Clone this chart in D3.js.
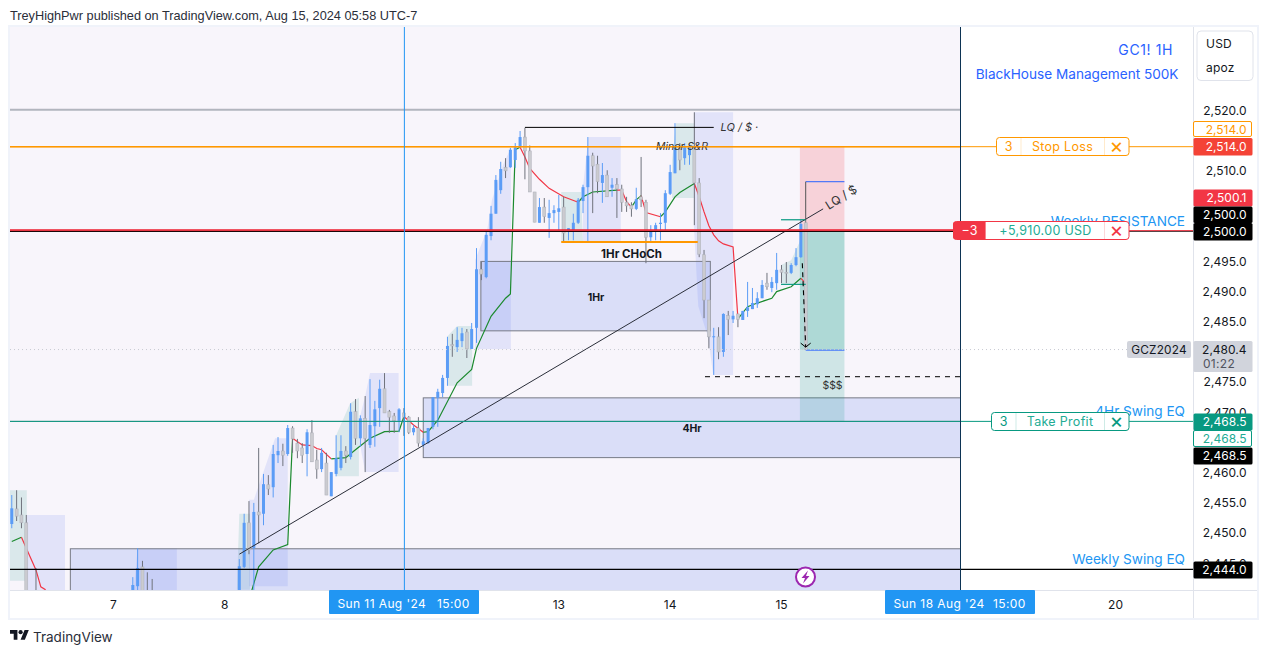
<!DOCTYPE html>
<html>
<head>
<meta charset="utf-8">
<script src="https://cdn.jsdelivr.net/npm/d3@7/dist/d3.min.js"></script>
<style>
html,body{margin:0;padding:0;background:#fff;}
svg{display:block;}
text{font-family:Inter,"Noto Sans",sans-serif;}
</style>
</head>
<body>
<svg id="c" width="1267" height="653"></svg>
<script>
// ---------- data (bar index, prices) ----------
const barIndex=[-47,-46,-45,-44,-42,-22,-21,-20,-19,-18,
0,1,2,3,4,5,6,7,8,9,10,11,12,13,14,15,16,17,18,19,20,21,22,23,24,25,26,27,28,29,30,31,32,33,34,35,36,37,38,39,
40,41,42,43,44,45,46,47,48,49,50,51,52,53,54,55,56,57,58,59,60,61,62,63,64,65,66,67,68,69,70,71,72,73,74,75,76,77,78,79,
80,81,82,83,84,85,86,87,88,89,90,91,92,93,94,95,96,97,98,99,100,101,102,103,104,105,106,107,108,109,110,111,112,113,114,115,116,117];
const highs=[2456.3,2457.1,2455.9,2453.0,2444.2,2442.7,2447.5,2445.4,2443.5,2442.4,
2445.7,2453.2,2455.3,2455.0,2464.1,2459.8,2459.6,2464.6,2465.9,2464.8,2467.9,2467.7,2465.6,2464.9,2467.2,2468.7,2463.8,2464.1,2463.3,2460.1,2466.2,2466.2,2464.4,2471.5,2472.2,2469.5,2472.7,2475.5,2471.9,2475.4,2476.5,2470.4,2469.9,2470.7,2470.7,2469.4,2467.9,2469.2,2465.7,2467.4,
2472.5,2473.9,2476.2,2482.5,2483.0,2484.1,2484.0,2483.8,2484.8,2497.2,2494.9,2500.2,2504.2,2509.3,2511.5,2512.1,2513.8,2514.6,2516.6,2517.1,2514.2,2506.5,2505.5,2505.5,2505.2,2504.3,2506.0,2505.7,2500.5,2502.9,2505.5,2507.7,2515.6,2513.0,2512.5,2511.3,2510.1,2508.8,2508.8,2507.7,
2505.7,2504.8,2507.2,2512.3,2505.2,2501.0,2501.4,2503.0,2506.8,2511.0,2517.9,2514.6,2514.6,2514.6,2519.7,2508.8,2496.9,2488.6,2484.0,2484.1,2486.4,2486.8,2486.8,2486.3,2486.8,2491.6,2490.6,2489.9,2491.9,2493.1,2492.4,2496.4,2494.4,2494.9,2494.7,2497.2,2501.9,2501.9];
const lows=[2450.8,2452.0,2450.8,2434,2434,2433,2435.6,2434,2433,2433,
2437,2444.2,2446.5,2440,2448.3,2451.3,2456.3,2455.9,2461.6,2461.1,2462.8,2463.3,2462.4,2461.6,2459.4,2461.8,2459.0,2460.1,2456.3,2456.1,2459.4,2460.4,2461.6,2462.2,2464.6,2464.3,2460.1,2464.1,2464.3,2467.6,2469.9,2466.6,2466.6,2466.7,2466.1,2466.4,2466.2,2464.3,2464.3,2464.8,
2467.2,2467.6,2472.5,2474.4,2479.2,2480.0,2480.8,2479.0,2480.5,2481.5,2491.9,2492.2,2498.5,2502.9,2506.2,2508.8,2510.5,2510.5,2513.8,2508.6,2506.5,2501.5,2501.4,2501.4,2498.9,2501.4,2499.9,2498.2,2498.5,2498.5,2501.2,2503.0,2498.2,2503.0,2506.3,2504.7,2505.7,2505.7,2502.2,2503.2,
2503.2,2502.4,2503.5,2504.0,2494.7,2498.2,2498.5,2498.5,2499.9,2506.0,2509.6,2510.1,2511.0,2511.0,2501.0,2495.7,2485.6,2480.6,2476.2,2478.8,2479.2,2482.8,2484.8,2484.1,2485.3,2485.8,2487.1,2487.3,2488.9,2490.3,2489.9,2490.3,2491.4,2491.4,2492.9,2494.2,2495.6,2480.4];
const opens=[2451.5,2454.0,2453.0,2451.7,2438.9,2435,2441.2,2444.4,2438.9,2438.9,
2438.9,2444.4,2451.7,2447.5,2453.5,2453.2,2458.0,2457.6,2462.9,2463.6,2463.1,2467.4,2464.9,2464.1,2463.1,2466.6,2462.1,2460.6,2461.6,2456.1,2459.8,2460.8,2463.6,2462.6,2470.1,2465.7,2469.0,2464.6,2467.7,2470.7,2473.9,2470.1,2469.4,2468.6,2469.9,2469.2,2466.7,2467.4,2464.6,2464.9,
2467.6,2472.4,2473.2,2475.7,2481.2,2480.8,2481.8,2483.3,2480.5,2484.0,2493.7,2492.4,2499.2,2502.9,2506.8,2510.6,2510.6,2511.8,2513.9,2515.6,2513.3,2506.5,2501.4,2504.0,2502.2,2503.0,2503.2,2504.0,2499.9,2500.0,2501.4,2505.0,2507.3,2512.5,2511.1,2508.0,2509.3,2507.2,2507.7,2507.0,
2504.8,2504.3,2503.7,2505.7,2504.8,2499.0,2499.9,2501.2,2501.4,2506.2,2509.6,2513.5,2512.1,2512.6,2513.5,2508.0,2496.1,2488.6,2482.5,2482.5,2480.0,2486.0,2485.4,2486.3,2485.3,2486.8,2487.1,2487.9,2488.9,2491.4,2490.6,2491.4,2493.6,2493.2,2493.1,2494.4,2495.7,2501.4];
const closes=[2454.1,2452.8,2451.7,2435.6,2435.6,2441.4,2444.2,2437.3,2435.6,2435.6,
2444.5,2451.7,2447.2,2453.5,2453.0,2458.1,2457.3,2463.1,2463.6,2462.9,2467.4,2465.6,2463.6,2462.9,2466.7,2461.8,2460.6,2463.3,2456.3,2460.1,2462.4,2463.6,2462.9,2470.1,2465.7,2469.0,2465.7,2467.9,2470.5,2473.9,2469.9,2469.2,2468.6,2470.5,2469.2,2466.7,2467.4,2464.9,2465.2,2467.4,
2472.5,2473.4,2475.7,2481.0,2481.0,2482.0,2483.1,2480.5,2483.8,2493.7,2492.9,2499.4,2502.9,2508.5,2510.3,2510.0,2513.5,2513.9,2515.6,2513.3,2506.5,2501.5,2504.0,2502.4,2503.0,2503.5,2503.8,2499.7,2500.5,2501.4,2505.2,2507.3,2512.5,2510.8,2508.2,2509.3,2505.7,2507.7,2507.0,2504.8,
2504.2,2503.7,2505.3,2505.2,2499.0,2499.9,2501.0,2501.4,2506.3,2509.8,2513.9,2511.8,2513.9,2513.9,2508.0,2496.2,2488.6,2482.5,2482.6,2480.0,2486.3,2485.4,2486.0,2485.4,2486.8,2487.4,2488.1,2488.9,2491.1,2490.8,2491.6,2493.6,2493.2,2493.1,2494.4,2495.7,2501.2,2480.4];

// moving-average line, split into runs: [bar index list, price list, colour flag]
const maIdx=[
[-47,-45],[-45,-44,-42,-41,-40],
[2,4,7,10,11],[11,13,15,16,17,19],[19,22,24,27,30,33,34],[34,36,38],
[38,39,41,45,48,49,52,55,56,57,58],[58,59,60,62,64,67,70],[70,71,73,78],[78,79,80,81],[81,82,83],[83,84,87],
[87,88,90,91,94],[94,95,96,97,98,99,100,102,103],[103,105,107,110,111,114,116],[116,117]];
const maPrice=[
[2448.6,2449.3],[2449.3,2447.5,2443.9,2441.1,2440.6],
[2438.9,2444.4,2447.2,2448.1,2465.7],[2465.7,2464.6,2464.5,2464.0,2463.8,2462.3],[2462.3,2462.5,2463.8,2465.7,2466.8,2466.9,2469.3],[2469.3,2467.9,2466.7],
[2466.7,2466.8,2468.7,2474.9,2477.1,2480.6,2485.9,2488.9,2489.6,2513.5,2513.9],[2513.9,2512.3,2510.4,2508.6,2507.1,2505.7,2504.8],[2504.8,2505.7,2506.5,2506.8],[2506.8,2506.8,2504.9,2504.0],[2504.0,2505.2,2505.9],[2505.9,2503.1,2502.4],
[2502.4,2503.2,2505.7,2506.4,2507.9],[2507.9,2505.7,2503.2,2500.9,2499.4,2498.4,2497.9,2497.4,2485.5],[2485.5,2487.5,2488.1,2488.9,2490.0,2490.8,2492.2],[2492.2,2491.4]];
const maRising=[1,0,1,0,1,0,1,0,1,0,1,0,1,0,1,0];

// shaded zones as outlines of [bar index, price]
const blueZones=[
[[-43.9,2453.0],[-36,2453.0],[-36,2438.9],[-43.9,2438.9]],
[[-22,2438.9],[-21,2447.5],[-12.9,2447.5],[-12.9,2438.9]],
[[2,2441.2],[2,2455.5],[3,2455.5],[7.4,2465.7],[10,2465.7],[10,2441.2]],
[[25,2464.4],[25,2469.5],[26,2472.7],[27,2476.5],[32.9,2476.5],[32.9,2460.1],[26,2460.1]],
[[48.7,2480.5],[48.7,2495.2],[49.7,2497.2],[51.2,2500.2],[52.2,2505.2],[54.5,2511],[56.1,2513.8],[56.1,2480.5]],
[[71,2498.2],[71,2507.3],[72.1,2515.6],[78.8,2515.6],[78.8,2498.2]],
[[93.9,2519.7],[102,2519.7],[102,2476.2],[97.9,2476.2],[96.8,2482.5],[94.8,2487.6],[93.9,2501]]];
const greenZones=[
[[-47.4,2457.1],[-43.9,2457.1],[-43.9,2442.1],[-47.4,2442.1]],
[[-0.5,2440.6],[0,2453.2],[2.2,2453.2],[2.2,2440.6]],
[[20,2459.4],[20,2466.2],[22.9,2471.5],[24.7,2472.4],[24.7,2459.4]],
[[42.9,2474.4],[42.9,2482.5],[45,2484.3],[48.1,2484.3],[48.1,2474.4]],
[[66.5,2498.2],[66.5,2506.5],[70.6,2506.5],[71,2498.2]],
[[89.4,2505.5],[89.4,2511.8],[90.2,2517.9],[93.9,2517.9],[93.9,2505.5]],
[[111.9,2491.4],[111.9,2494.4],[114,2495.2],[115.9,2498.5],[115.9,2491.4]]];

// rectangles: left bar, right bar, top price, bottom price, label
const boxLeft=[49.9,38,-34.9];
const boxRight=[97.3,149,149];
const boxTop=[2495,2472.4,2447.4];
const boxBottom=[2483.5,2462.5,2430];
const boxLabels=["1Hr","4Hr",""];

// position tool
const entryPrice=2500, stopPrice=2514, targetPrice=2468.5, lastPrice=2480.4;
const posBars=[115.8,125];

const trendBars=[0,120.6], trendPrices=[2446.5,2503.7];
const priceTicks=[2520,2510,2495,2490,2485,2475,2470,2460,2455,2450,2445];
const dayTicks=[-26,-3,66,89,112,181];
const dayLabels=["7","8","13","14","15","20"];

// ---------- scales ----------
const x=d3.scaleLinear().domain([0,117]).range([239.3,805.7]);
const y=d3.scaleLinear().domain([2514,2444]).range([146.7,569.3]);
const svg=d3.select("#c");

const L=10,R=960,T=27,B=590,AX=1193,W=1257,BB=618;
// frame
svg.append("rect").attr("x",L-1).attr("y",T-1).attr("width",W-L+2).attr("height",BB-T+2).attr("fill","#fff").attr("stroke","#f0f3fa").attr("stroke-width",2);
svg.append("rect").attr("x",L).attr("y",T).attr("width",R-L).attr("height",B-T).attr("fill","#f8f5fb");

const defs=svg.append("defs");
defs.append("clipPath").attr("id","plot").append("rect").attr("x",L).attr("y",T).attr("width",R-L).attr("height",B-T);
defs.append("clipPath").attr("id","full").append("rect").attr("x",L).attr("y",T).attr("width",AX-L).attr("height",B-T);

const plot=svg.append("g").attr("clip-path","url(#plot)");
const polyLine=d3.line().x(d=>x(d[0])).y(d=>y(d[1]));

// zones
plot.append("g").selectAll("path").data(blueZones).join("path").attr("d",d=>polyLine(d)+"Z").attr("fill","rgba(100,130,240,.15)");
plot.append("g").selectAll("path").data(greenZones).join("path").attr("d",d=>polyLine(d)+"Z").attr("fill","rgba(10,140,120,.12)");

// boxes
const boxes=boxLeft.map((l,i)=>({l,r:boxRight[i],t:boxTop[i],b:boxBottom[i],label:boxLabels[i]}));
plot.append("g").selectAll("rect").data(boxes).join("rect")
 .attr("x",d=>x(d.l)).attr("y",d=>y(d.t)).attr("width",d=>x(d.r)-x(d.l)).attr("height",d=>y(d.b)-y(d.t))
 .attr("fill","rgba(100,130,240,.2)").attr("stroke","#787b86").attr("stroke-width",1);

// position tool
const pl=x(posBars[0]), pw=x(posBars[1])-x(posBars[0]);
plot.append("rect").attr("x",pl).attr("y",y(stopPrice)).attr("width",pw).attr("height",y(entryPrice)-y(stopPrice)).attr("fill","rgba(242,54,69,.18)");
plot.append("rect").attr("x",pl).attr("y",y(entryPrice)).attr("width",pw).attr("height",y(targetPrice)-y(entryPrice)).attr("fill","rgba(8,153,129,.17)");
plot.append("rect").attr("x",pl).attr("y",y(entryPrice)).attr("width",pw).attr("height",y(lastPrice)-y(entryPrice)).attr("fill","rgba(8,153,129,.16)");

// MA
const ma=plot.append("g");
maIdx.forEach((ids,i)=>{
 ma.append("path").attr("d",polyLine(ids.map((b,j)=>[b,maPrice[i][j]]))).attr("fill","none")
  .attr("stroke",maRising[i]?"#1b8a2e":"#f23645").attr("stroke-width",1.2);
});

// candles
const bars=barIndex.map((b,i)=>({b,h:highs[i],l:lows[i],o:opens[i],c:closes[i]}));
const cg=plot.append("g").selectAll("g").data(bars).join("g");
cg.append("line").attr("x1",d=>x(d.b)).attr("x2",d=>x(d.b)).attr("y1",d=>y(d.h)).attr("y2",d=>y(d.l))
 .attr("stroke",d=>d.c>=d.o?"#5b9cf6":"#6f727c").attr("stroke-width",1);
cg.append("rect").attr("x",d=>x(d.b)-1.5).attr("width",3)
 .attr("y",d=>y(Math.max(d.o,d.c))).attr("height",d=>Math.max(1,Math.abs(y(d.o)-y(d.c))))
 .attr("fill",d=>d.c>=d.o?"#5b9cf6":"#cbcbd0").attr("stroke",d=>d.c>=d.o?"none":"#adb0b8").attr("stroke-width",.5);

// trend line
plot.append("path").attr("d",polyLine(trendBars.map((b,i)=>[b,trendPrices[i]]))).attr("stroke","#2a2e39").attr("stroke-width",1).attr("fill","none");
function hLine(g,p,x0,x1,col,w,dash){
 return g.append("line").attr("x1",x0).attr("x2",x1).attr("y1",y(p)).attr("y2",y(p)).attr("stroke",col).attr("stroke-width",w).attr("stroke-dasharray",dash||null);
}
const full=svg.append("g").attr("clip-path","url(#full)");
hLine(plot,2520.1,L,R,"#b2b5be",2);
hLine(full,targetPrice,L,AX,"#089981",1);
hLine(plot,targetPrice,L,R,"#787b86",1);
hLine(full,stopPrice,L,AX,"#ff9800",1);
hLine(plot,stopPrice,L,R,"#ff9800",1.6);
hLine(full,entryPrice,L,AX,"#000",1);
hLine(plot,entryPrice,L,R,"#000",1.4);
hLine(full,2500.1,L,AX,"#f23645",1);
hLine(plot,2500.2,L,R,"#ee1c2e",1.4);
hLine(full,2444,L,AX,"#000",1.2);
hLine(full,lastPrice,L,1127,"#c8cad2",1,"1 3");

// LQ and CHoCH
const lqBars=[59,98], lqPrice=2517.2, chochBars=[66.5,94.7], chochPrice=2498.2, ssPrice=2475.9, ssBars=[96.2,149];
plot.append("line").attr("x1",x(lqBars[0])).attr("x2",x(lqBars[1])).attr("y1",y(lqPrice)).attr("y2",y(lqPrice)).attr("stroke","#000").attr("stroke-width",1);
plot.append("line").attr("x1",x(chochBars[0])).attr("x2",x(chochBars[1])).attr("y1",y(chochPrice)).attr("y2",y(chochPrice)).attr("stroke","#ff9800").attr("stroke-width",2);
plot.append("line").attr("x1",x(ssBars[0])).attr("x2",x(ssBars[1])).attr("y1",y(ssPrice)).attr("y2",y(ssPrice)).attr("stroke","#000").attr("stroke-width",1).attr("stroke-dasharray","5 5");

// short target lines near the last bars
const shortHi=2501.9, shortLo=2491.2, shortBars=[111.9,117];
[shortHi,shortLo].forEach(p=>plot.append("line").attr("x1",x(shortBars[0])).attr("x2",x(shortBars[1])).attr("y1",y(p)).attr("y2",y(p)).attr("stroke","#089981").attr("stroke-width",1.2));

// blue measure lines
const measureHi=2508.2, measureLo=2480.3, measureBars=[117,125];
[measureHi,measureLo].forEach(p=>plot.append("line").attr("x1",x(measureBars[0])).attr("x2",x(measureBars[1])).attr("y1",y(p)).attr("y2",y(p)).attr("stroke","#2962ff").attr("stroke-width",1));
plot.append("line").attr("x1",x(117)).attr("x2",x(117)).attr("y1",y(measureHi)).attr("y2",y(2501.9)).attr("stroke","#555").attr("stroke-width",1);

// dashed arrow
const arrowBars=[116.3,117], arrowPrices=[2494.7,2480.8];
plot.append("line").attr("x1",x(arrowBars[0])).attr("x2",x(arrowBars[1])).attr("y1",y(arrowPrices[0])).attr("y2",y(arrowPrices[1])).attr("stroke","#000").attr("stroke-width",1.1).attr("stroke-dasharray","5 4");
plot.append("path").attr("d",`M${x(117)-5},${y(2480.8)-4}L${x(117)},${y(2480.8)}L${x(117)+5},${y(2480.8)-4}`).attr("fill","none").attr("stroke","#000").attr("stroke-width",1);

// vertical markers
const markerBars=[34.1,148.9];
svg.append("line").attr("x1",x(markerBars[0])).attr("x2",x(markerBars[0])).attr("y1",T).attr("y2",B).attr("stroke","#2196f3").attr("stroke-width",1);
svg.append("line").attr("x1",R+.5).attr("x2",R+.5).attr("y1",T).attr("y2",B).attr("stroke","#0c3354").attr("stroke-width",1);

// plot labels
function t(g,s,xx,yy,o={}){
 const e=g.append("text").attr("x",xx).attr("y",yy).attr("text-anchor",o.a||"start").attr("dominant-baseline","central")
  .attr("font-size",o.s||12).attr("fill",o.c||"#131722").text(s);
 if(o.w)e.attr("font-weight",o.w);
 if(o.i)e.attr("font-style","italic");
 if(o.f)e.style("font-family",o.f);
 if(o.ls)e.attr("letter-spacing",o.ls);
 return e;
}
t(plot,"1Hr",596,297.5,{a:"middle",s:10.5,w:700});
t(plot,"4Hr",692,428,{a:"middle",s:10.5,w:700});
t(plot,"1Hr CHoCh",631.5,253.5,{a:"middle",s:11.5,w:700});
t(plot,"LQ / $ ·",720.5,127,{s:11,i:1,c:"#333"});
t(plot,"Minor S&R",682,146.5,{a:"middle",s:10.5,i:1,c:"#333"});
t(plot,"$$$",832.5,385,{a:"middle",s:10.5,c:"#333"});
t(plot,"LQ / $",841,197,{a:"middle",s:12,c:"#333"}).attr("transform","rotate(-32 841 197)");

// lightning event
svg.append("circle").attr("cx",805.5).attr("cy",577).attr("r",9.5).attr("fill","#fff").attr("stroke","#9c27b0").attr("stroke-width",2);
svg.append("path").attr("d","M808,570.5L801.5,578H805L803,583.5L809.5,576H806Z").attr("fill","#9c27b0");

// right texts
t(svg,"GC1! 1H",1173,49.5,{a:"end",s:14,c:"#2962ff",ls:.6});
t(svg,"BlackHouse Management 500K",1178.5,73.5,{a:"end",s:13.6,c:"#2962ff"});
t(svg,"Weekly RESISTANCE",1185,220.5,{a:"end",s:13.6,c:"#2196f3"});
t(svg,"4Hr Swing EQ",1185,410.5,{a:"end",s:13.6,c:"#2196f3"});
t(svg,"Weekly Swing EQ",1185,558.5,{a:"end",s:13.6,c:"#2196f3"});

// widgets
function widget(x0,x1,top,col,qty,label,textCol,div1,lx,xc){
 const h=18;
 svg.append("rect").attr("x",x0+.5).attr("y",top+.5).attr("width",x1-x0).attr("height",h).attr("rx",3).attr("fill","#fff").attr("stroke",col);
 svg.append("line").attr("x1",div1).attr("x2",div1).attr("y1",top+1).attr("y2",top+h).attr("stroke",col).attr("stroke-opacity",.2);
 svg.append("line").attr("x1",1104.5).attr("x2",1104.5).attr("y1",top+1).attr("y2",top+h).attr("stroke",col).attr("stroke-opacity",.2);
 if(qty)t(svg,qty,(x0+div1)/2,top+9.5,{a:"middle",s:12.5,c:col});
 t(svg,label,lx,top+9.5,{a:"middle",s:12.5,c:textCol,ls:.3});
 t(svg,"×",1116.5,top+8.5,{a:"middle",s:21,c:xc||col,w:400});
}
widget(996,1128.5,137,"#ff9800","3","Stop Loss","#ff9800",1021,1062.5);
widget(991,1128.5,412,"#089981","3","Take Profit","#22ab94",1016,1060);
widget(953,1128.5,221,"#f23645","","+5,910.00 USD","#22ab94",985.5,1045.5);
svg.append("path").attr("d","M956,221.5H985.5V239.5H956a3,3 0 0 1 -3,-3V224.5a3,3 0 0 1 3,-3Z").attr("fill","#f23645");
t(svg,"−3",969.5,230.5,{a:"middle",s:12.5,c:"#fff"});

// GCZ tag
svg.append("rect").attr("x",1127).attr("y",341).attr("width",64).attr("height",17).attr("rx",2).attr("fill","#d1d4dc");
t(svg,"GCZ2024",1159,349.5,{a:"middle",s:11.8,ls:.2});

// axes area
svg.append("rect").attr("x",AX).attr("y",T).attr("width",W-AX).attr("height",BB-T).attr("fill","#fff");
svg.append("line").attr("x1",AX+.5).attr("x2",AX+.5).attr("y1",T).attr("y2",BB).attr("stroke","#e0e3eb");
svg.append("line").attr("x1",L).attr("x2",W).attr("y1",B+.5).attr("y2",B+.5).attr("stroke","#e0e3eb");

const priceAxis=d3.axisRight(y.copy()).tickValues(priceTicks).tickSize(0).tickPadding(0).tickFormat(d3.format(",.1f"));
const pa=svg.append("g").attr("transform",`translate(1246.5,0)`).call(priceAxis);
pa.select(".domain").remove();
pa.selectAll("text").attr("text-anchor","end").attr("font-size",12).attr("fill","#131722")
 .style("font-family","Inter").attr("dy","0").attr("dominant-baseline","central").attr("y",-.7);

const timeAxis=d3.axisBottom(x).tickValues(dayTicks).tickSize(0).tickPadding(0).tickFormat((d,i)=>dayLabels[i]);
const ta=svg.append("g").attr("transform",`translate(-.5,604)`).call(timeAxis);
ta.select(".domain").remove();
ta.selectAll("text").attr("font-size",12).attr("fill","#131722").style("font-family","Inter").attr("dy","0").attr("y",0).attr("dominant-baseline","central");

// time tags
[[329,"Sun 11 Aug '24"],[885,"Sun 18 Aug '24"]].forEach(([xx,lab])=>{
 svg.append("rect").attr("x",xx).attr("y",590).attr("width",150).attr("height",24).attr("rx",1).attr("fill","#2196f3");
 t(svg,lab,xx+8.5,603.5,{s:12,c:"#fff",ls:.4});
 t(svg,"15:00",xx+108,603.5,{s:12,c:"#fff",ls:.4});
});

// price tags
function tag(p0,p1,lab,fill,txt,stroke){
 svg.append("rect").attr("x",1193.5).attr("y",p0+.5).attr("width",stroke?58:59).attr("height",p1-p0-(stroke?1:0)).attr("rx",1.5)
  .attr("fill",fill).attr("stroke",stroke||"none");
 t(svg,lab,1246.5,(p0+p1)/2,{a:"end",s:12,c:txt});
}
tag(121,137,"2,514.0","#fff","#ff9800","#ff9800");
tag(137.5,155,"2,514.0","#f44336","#fff");
tag(189,206,"2,500.1","#f23645","#fff");
tag(206,222.5,"2,500.0","#000","#fff");
tag(222.5,240,"2,500.0","#000","#fff");
svg.append("rect").attr("x",1193.5).attr("y",341).attr("width",59).attr("height",31).attr("rx",1.5).attr("fill","#d1d4dc");
t(svg,"2,480.4",1246.5,349,{a:"end",s:12});
t(svg,"01:22",1203,363,{s:12,c:"#50535e",ls:.3});
tag(413,430,"2,468.5","#089981","#fff");
tag(430,447,"2,468.5","#fff","#22ab94","#089981");
tag(447,464,"2,468.5","#000","#fff");
tag(561,578,"2,444.0","#000","#fff");

// currency box
svg.append("rect").attr("x",1197).attr("y",31).attr("width",56).attr("height",49.5).attr("rx",4).attr("fill","#fff").attr("stroke","#e0e3eb");
t(svg,"USD",1206,43.5,{s:12,ls:.2});
t(svg,"apoz",1206,67,{s:12,ls:.2});

// header/footer
t(svg,"TreyHighPwr published on TradingView.com, Aug 15, 2024 05:58 UTC-7",10,15.5,{s:12.72,c:"#2a2e39",f:"Liberation Sans"});
svg.append("path").attr("transform","translate(10,628) scale(.53)").attr("fill","#131722")
 .attr("d","M14 22H7V11H0V4h14v18zM28 22h-8l7.5-18h8L28 22z");
svg.append("circle").attr("cx",20.6).attr("cy",632.2).attr("r",2.1).attr("fill","#131722");
t(svg,"TradingView",33,636.5,{s:13.5,c:"#2a2e39"});
</script>
</body>
</html>
